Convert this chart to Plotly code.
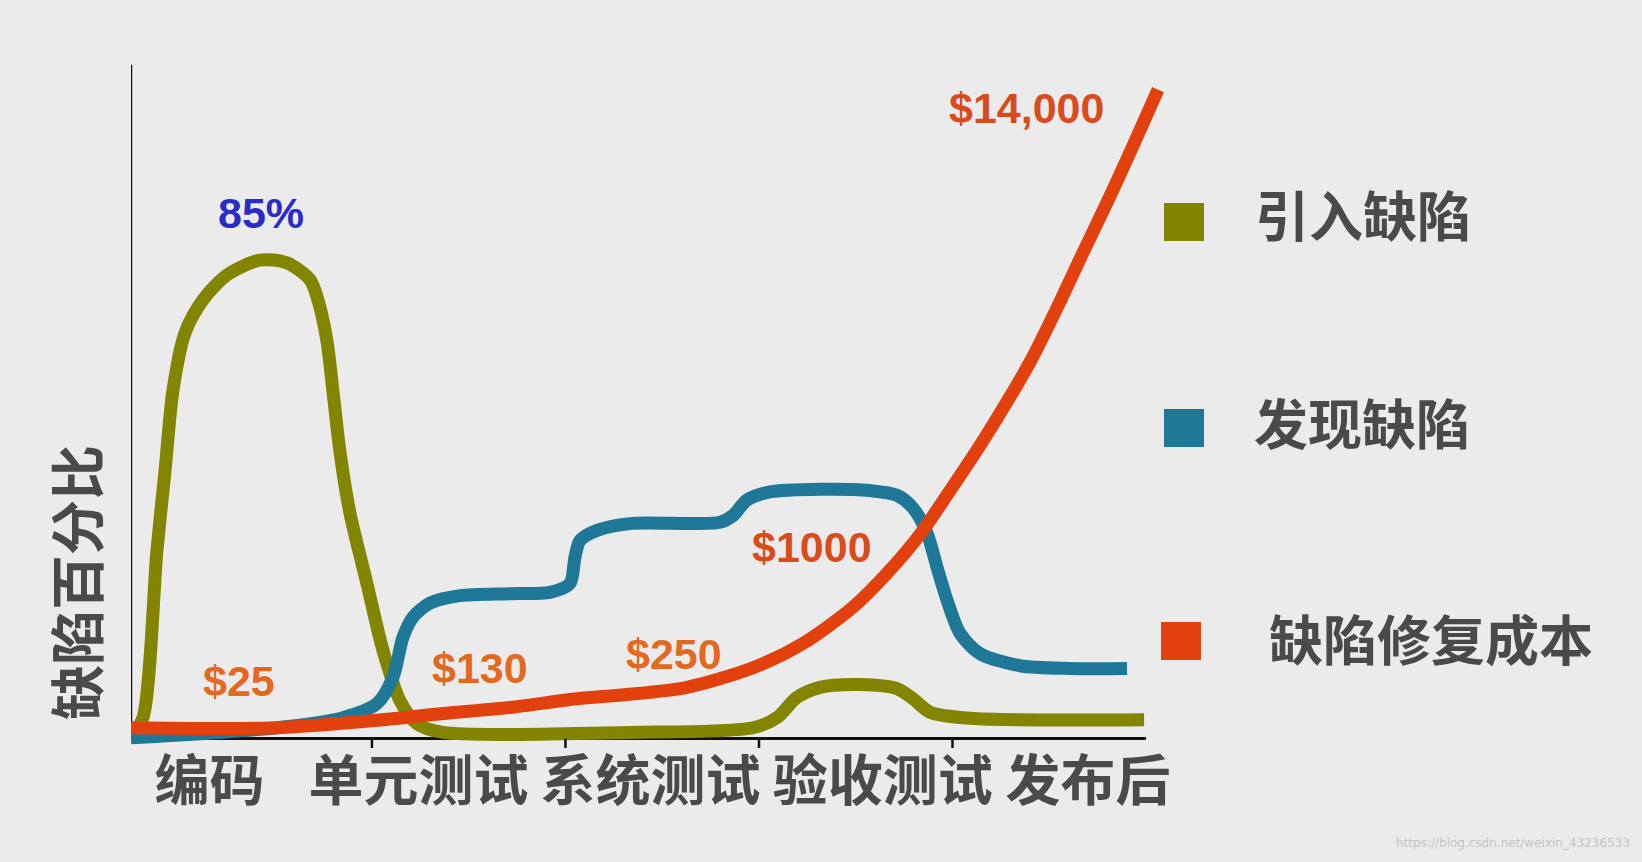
# ================================================= Libraries =========================================================


import plotly.graph_objects as go


# ================================================= Data ==============================================================


# Stages on the x axis (the stage boundaries sit at x = 1, 2, 3, 4).
stages = ['编码', '单元测试', '系统测试', '验收测试', '发布后']
stage_centers = [0.16, 1.24, 2.44, 3.64, 4.70]
stage_bounds = [1, 2, 3, 4]

# Introduced defects (%).
intro_x = [-0.245, -0.183, -0.111, -0.070, -0.028, 0.034, 0.127, 0.251, 0.421, 0.561, 0.680, 0.721,
           0.767, 0.798, 0.835, 0.886, 0.974, 1.057, 1.145, 1.233, 1.367, 2.333, 2.969, 3.093,
           3.196, 3.315, 3.522, 3.713, 3.796, 3.884, 4.090, 4.990]
intro_y = [0.1, 3.1, 27.9, 39.5, 51.7, 60.2, 65.1, 68.8, 71.0, 70.6, 68.1, 65.1,
           59.1, 51.7, 42.5, 33.5, 23.0, 13.1, 5.6, 2.2, 0.9, 0.9, 1.6, 3.1,
           6.1, 7.6, 8.0, 7.4, 5.9, 3.9, 3.0, 2.8]

# Found defects (%).
found_x = [-0.245, 0.509, 0.850, 1.026, 1.109, 1.160, 1.212, 1.300, 1.455, 1.713, 1.920, 2.023,
           2.049, 2.075, 2.163, 2.333, 2.798, 2.866, 2.938, 3.057, 3.315, 3.574, 3.713, 3.796,
           3.868, 3.920, 3.972, 4.039, 4.142, 4.349, 4.607, 4.902]
found_y = [0.1, 1.6, 3.1, 5.2, 9.1, 15.0, 18.0, 20.1, 21.2, 21.5, 21.7, 23.0,
           26.9, 29.4, 30.9, 31.9, 32.1, 33.1, 35.4, 36.6, 37.0, 36.8, 36.1, 34.2,
           30.5, 25.4, 20.5, 15.6, 12.6, 10.8, 10.4, 10.4]

# Cost to repair a defect.
cost_x = [-0.245, 0.163, 0.509, 1.026, 1.367, 1.713, 2.059, 2.307, 2.628, 2.969, 3.227, 3.486,
          3.661, 3.832, 3.987, 4.142, 4.282, 4.401, 4.540, 4.674, 4.814, 4.933, 5.062]
cost_y = [1.6, 1.5, 1.6, 2.7, 3.7, 4.6, 5.9, 6.5, 7.6, 10.5, 14.1, 19.5,
          24.5, 30.3, 36.8, 43.5, 50.0, 55.9, 63.9, 72.1, 80.5, 88.0, 96.3]

# Cost labels along the red curve.
cost_labels = ['$25', '$130', '$250', '$1000', '$14,000']
cost_label_x = [0.313, 1.558, 2.561, 3.274, 4.380]
cost_label_y = [8.6, 10.5, 12.5, 28.4, 93.6]

peak_label = '85%'
series_names = ['引入缺陷', '发现缺陷', '缺陷修复成本']
y_title = '缺陷百分比'


# ================================================= Chart =============================================================


W, H = 1642, 862
MARGIN = dict(l=131, r=465, t=58, b=110)
OLIVE, BLUE, RED = '#838500', '#1f7897', '#e2410e'
TEXT_GREY = '#4a4a4a'
CJK = 'Noto Sans CJK SC'
LATIN = 'Liberation Sans, Arial'


# Pixel position -> paper coordinates.
def px_x(ax):
    return (ax - MARGIN['l']) / (W - MARGIN['l'] - MARGIN['r'])


def px_y(ay):
    return (H - MARGIN['b'] - ay) / (H - MARGIN['t'] - MARGIN['b'])


fig = go.Figure()
for xs, ys, color, name in [(intro_x, intro_y, OLIVE, series_names[0]),
                            (found_x, found_y, BLUE, series_names[1]),
                            (cost_x, cost_y, RED, series_names[2])]:
    fig.add_trace(go.Scatter(x=xs, y=ys, mode='lines', name=name, hoverinfo='skip',
                             line=dict(color=color, width=13, shape='spline', smoothing=0.8)))

# Axes lines and the stage boundary ticks.
fig.add_shape(type='line', x0=-0.245, x1=5.0, y0=0, y1=0, line=dict(color='#111111', width=3), layer='below')
fig.add_shape(type='line', x0=-0.245, x1=-0.245, y0=0, y1=100, line=dict(color='#111111', width=2.5),
              layer='below')
for b in stage_bounds:
    fig.add_shape(type='line', x0=b, x1=b, y0=0, y1=-1.4, line=dict(color='#111111', width=2.5))

# Labels on the curves.
for text, x, y in zip(cost_labels, cost_label_x, cost_label_y):
    color = '#e2691f' if len(text) <= 4 else '#d84b1c'
    fig.add_annotation(x=x, y=y, text='<b>{}</b>'.format(text), showarrow=False,
                       font=dict(family=LATIN, size=43, color=color))
fig.add_annotation(x=0.426, y=78.0, text='<b>{}</b>'.format(peak_label), showarrow=False,
                   font=dict(family=LATIN, size=43, color='#2b2bc8'))

# Legend drawn by hand: squares and names.
legend_rows = [(OLIVE, 1184, 222, 1363, 214), (BLUE, 1184, 428, 1362, 421), (RED, 1181, 641, 1431, 637)]
for (color, sx, sy, tx, ty), name in zip(legend_rows, series_names):
    fig.add_shape(type='rect', xref='paper', yref='paper',
                  x0=px_x(sx - 20), x1=px_x(sx + 20), y0=px_y(sy + 19), y1=px_y(sy - 19),
                  fillcolor=color, line=dict(width=0))
    fig.add_annotation(xref='paper', yref='paper', x=px_x(tx), y=px_y(ty), text='<b>{}</b>'.format(name),
                       xanchor='center', yanchor='middle', showarrow=False,
                       font=dict(family=CJK, size=54, color=TEXT_GREY))

# Y axis title.
fig.add_annotation(xref='paper', yref='paper', x=px_x(74), y=px_y(583), text='<b>{}</b>'.format(y_title),
                   xanchor='center', yanchor='middle', textangle=-90, showarrow=False,
                   font=dict(family=CJK, size=55, color=TEXT_GREY))

# Watermark.
fig.add_annotation(xref='paper', yref='paper', x=px_x(1632), y=px_y(843), xanchor='right', yanchor='middle',
                   text='https://blog.csdn.net/weixin_43236533', showarrow=False,
                   font=dict(family='DejaVu Sans', size=12, color='#c4c4c4'))

fig.update_layout(width=W, height=H, margin=MARGIN, showlegend=False, hovermode=False,
                  paper_bgcolor='#ebebeb', plot_bgcolor='#ebebeb')
fig.update_xaxes(range=[-0.245, 5.16], tickvals=stage_centers, ticktext=['<b>{}</b>'.format(s) for s in stages],
                 ticks='', showline=False, showgrid=False, zeroline=False, ticklabelstandoff=-8,
                 tickfont=dict(family=CJK, size=55, color=TEXT_GREY))
fig.update_yaxes(range=[-2, 101], showticklabels=False, showline=False, showgrid=False, zeroline=False)

# Page without the default body margin and without the mode bar.
fig.write_html("out.html", config={'displayModeBar': False}, post_script="document.body.style.margin='0';")
